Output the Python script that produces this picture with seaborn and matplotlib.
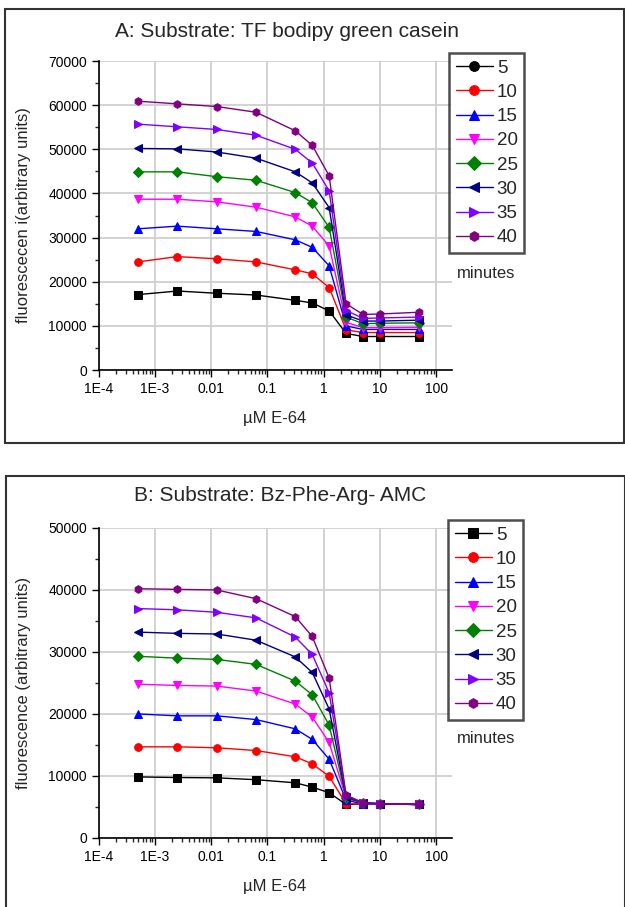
import numpy as np
import pandas as pd
import matplotlib
matplotlib.use('Agg')
import matplotlib.pyplot as plt
import matplotlib.ticker as mticker
from matplotlib.patches import Rectangle
import seaborn as sns

# E-64 concentrations (uM)
conc = [0.0005, 0.0025, 0.0125, 0.0625, 0.3125, 0.625, 1.25, 2.5, 5, 10, 50]
minutes = ['5', '10', '15', '20', '25', '30', '35', '40']

# panel A: TF bodipy green casein
casein_5 = [17100, 17900, 17400, 17000, 15800, 15200, 13400, 8300, 7600, 7600, 7600]
casein_10 = [24500, 25700, 25200, 24500, 22700, 21800, 18700, 9100, 8500, 8500, 8500]
casein_15 = [32000, 32600, 32000, 31400, 29500, 27800, 23600, 10000, 9200, 9200, 9200]
casein_20 = [38700, 38700, 38100, 36900, 34700, 32600, 28100, 10800, 9600, 9600, 9700]
casein_25 = [44900, 44900, 43800, 43000, 40200, 37900, 32300, 12000, 10500, 10600, 10700]
casein_30 = [50200, 50100, 49400, 48000, 44900, 42400, 36800, 12500, 11100, 11100, 11300]
casein_35 = [55700, 55100, 54500, 53200, 50000, 46900, 40600, 13500, 11700, 11800, 12000]
casein_40 = [60900, 60300, 59700, 58400, 54200, 50900, 44000, 15000, 12600, 12700, 13100]

# panel B: Bz-Phe-Arg-AMC
amc_5 = [9850, 9750, 9700, 9400, 8900, 8200, 7300, 5400, 5500, 5500, 5400]
amc_10 = [14700, 14700, 14550, 14100, 13100, 11950, 9950, 5500, 5500, 5500, 5400]
amc_15 = [20000, 19700, 19700, 19100, 17600, 15900, 12700, 6100, 5500, 5500, 5400]
amc_20 = [24800, 24600, 24500, 23700, 21600, 19500, 15400, 6400, 5600, 5500, 5400]
amc_25 = [29300, 29000, 28800, 28000, 25300, 23100, 18200, 6500, 5600, 5500, 5400]
amc_30 = [33200, 33000, 32900, 31900, 29200, 26700, 20800, 6600, 5700, 5500, 5400]
amc_35 = [37000, 36800, 36400, 35500, 32400, 29600, 23400, 6800, 5700, 5550, 5400]
amc_40 = [40200, 40100, 40000, 38600, 35700, 32500, 25800, 6900, 5700, 5550, 5400]

casein = [casein_5, casein_10, casein_15, casein_20, casein_25, casein_30, casein_35, casein_40]
amc = [amc_5, amc_10, amc_15, amc_20, amc_25, amc_30, amc_35, amc_40]

colors = ['#000000', '#ff0000', '#0000ff', '#ff00ff', '#008000', '#000080', '#8000ff', '#800080']
marks = ['s', 'o', '^', 'v', 'D', '<', '>', 'h']


def long_df(series):
    rows = []
    for m, vals in zip(minutes, series):
        for c, v in zip(conc, vals):
            rows.append({'conc': c, 'fluor': v, 'minutes': m})
    return pd.DataFrame(rows)


sns.set_style('white')
plt.rcParams['font.family'] = ['Liberation Sans', 'DejaVu Sans']

fig = plt.figure(figsize=(6.25, 9.07), dpi=100)

panels = [
    dict(df=long_df(casein), rect=[0.158, 0.592, 0.565, 0.3407], ymax=70000,
         title='A: Substrate: TF bodipy green casein', title_y=0.9658, title_x=0.459,
         ylabel='fluorescecen i(arbitrary units)', leg=(0.7184, 0.9416), minutes_y=0.698,
         frame=(0.008, 1 - 443 / 907, 0.99, (443 - 9) / 907), xlab_y=1 - 418 / 907,
         first_mark='o'),
    dict(df=long_df(amc), rect=[0.158, 0.0761, 0.565, 0.3418], ymax=50000,
         title='B: Substrate: Bz-Phe-Arg- AMC', title_y=0.454, title_x=0.448,
         ylabel='fluorescence (arbitrary units)', leg=(0.7168, 0.4267), minutes_y=0.1863,
         frame=(0.0096, -0.01, 0.99, 1 - 476 / 907 + 0.01), xlab_y=1 - 887 / 907,
         first_mark='s'),
]

for p in panels:
    ax = fig.add_axes(p['rect'])
    sns.lineplot(data=p['df'], x='conc', y='fluor', hue='minutes', style='minutes',
                 hue_order=minutes, style_order=minutes, palette=colors,
                 markers=marks, dashes=False, errorbar=None, ax=ax,
                 linewidth=1, markersize=5.5)
    for ln in ax.lines:
        ln.set_markeredgecolor(ln.get_color())
    ax.set_xscale('log')
    ax.set_xlim(1e-4, 190)
    ax.set_ylim(0, p['ymax'])
    ax.xaxis.set_major_locator(mticker.FixedLocator([1e-4, 1e-3, 1e-2, 0.1, 1, 10, 100]))
    ax.xaxis.set_major_formatter(mticker.FixedFormatter(['1E-4', '1E-3', '0.01', '0.1', '1', '10', '100']))
    ax.xaxis.set_minor_locator(mticker.LogLocator(base=10, subs=np.arange(2, 10), numticks=20))
    ax.xaxis.set_minor_formatter(mticker.NullFormatter())
    ax.yaxis.set_major_locator(mticker.MultipleLocator(10000))
    ax.yaxis.set_minor_locator(mticker.MultipleLocator(5000))
    ax.tick_params(which='major', direction='out', length=5, width=1, labelsize=10, colors='black',
                   bottom=True, left=True)
    ax.tick_params(which='minor', direction='out', length=3, width=1, bottom=True, left=True)
    ax.grid(True, which='major', color='#cfcfcf', linewidth=1.3)
    ax.get_ygridlines()[-1].set_visible(False)
    for s in ['top', 'right']:
        ax.spines[s].set_visible(False)
    for s in ['left', 'bottom']:
        ax.spines[s].set_color('black')
        ax.spines[s].set_linewidth(1.2)
    ax.set_xlabel('')
    ax.set_ylabel(p['ylabel'], fontsize=12, labelpad=12)
    fig.text(0.44, p['xlab_y'], 'µM E-64', fontsize=12, ha='center', va='center')
    fig.text(p['title_x'], p['title_y'], p['title'], fontsize=15, ha='center', va='center')

    handles, labels = ax.get_legend_handles_labels()
    ax.legend_.remove()
    leg = fig.legend(handles, labels, loc='upper left', bbox_to_anchor=p['leg'],
                     fontsize=13.5, frameon=True, fancybox=False, edgecolor='#222222',
                     handlelength=2.0, handletextpad=0.2, labelspacing=0.38,
                     borderpad=0.35, borderaxespad=0)
    leg.get_frame().set_linewidth(1.8)
    for h in leg.legend_handles:
        h.set_markersize(7)
        h.set_markeredgecolor(h.get_color())
    leg.legend_handles[0].set_marker(p['first_mark'])
    fig.text(0.7776, p['minutes_y'], 'minutes', fontsize=12, ha='center', va='center')

    fig.patches.append(Rectangle((p['frame'][0], p['frame'][1]), p['frame'][2], p['frame'][3],
                                 transform=fig.transFigure, fill=False, edgecolor='#333333',
                                 linewidth=1.5))

fig.savefig('out.png', dpi=100)
